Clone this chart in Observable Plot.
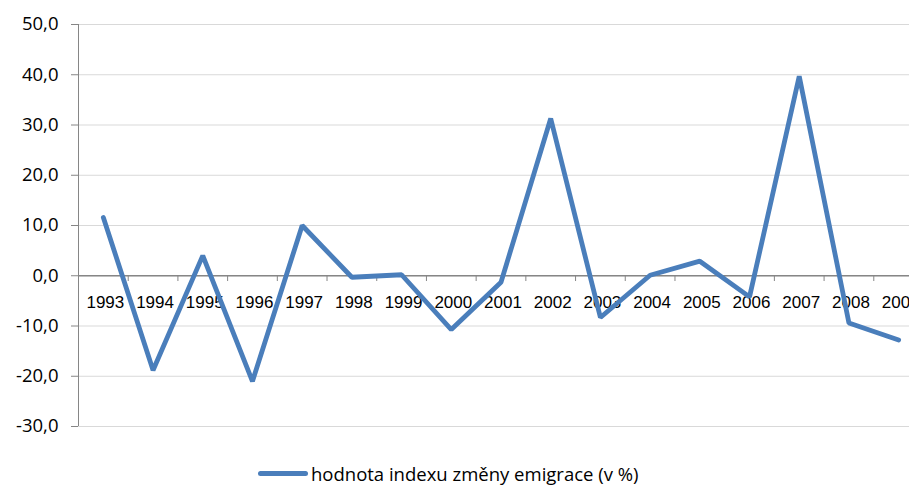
<!DOCTYPE html>
<html>
<head>
<meta charset="utf-8">
<script src="https://cdn.jsdelivr.net/npm/d3@7"></script>
<script src="https://cdn.jsdelivr.net/npm/@observablehq/plot@0.6"></script>
<style>
  html, body { margin: 0; padding: 0; background: #fff; overflow: hidden; }
  #wrap { position: relative; width: 909px; height: 485px; }
  #legend { position: absolute; left: 258px; top: 460px; height: 26px; display: flex; align-items: center;
            font-family: "Open Sans", sans-serif; font-size: 18.5px; color: #000; white-space: nowrap; }
  #legend .sw { width: 50px; height: 5px; border-radius: 3px; background: #4a7ebb; margin-right: 3px; }
</style>
</head>
<body>
<div id="wrap">
  <div id="chart"></div>
  <div id="legend"><span class="sw"></span><span>hodnota indexu změny emigrace (v %)</span></div>
</div>
<script>
const years = [1993, 1994, 1995, 1996, 1997, 1998, 1999, 2000, 2001, 2002, 2003, 2004, 2005, 2006, 2007, 2008, 2009];
const values = [11.6, -18.8, 4.0, -21.0, 10.0, -0.3, 0.2, -10.7, -1.3, 31.3, -8.3, 0.1, 2.9, -4.2, 39.7, -9.4, -12.8];
const yTicks = [-30, -20, -10, 0, 10, 20, 30, 40, 50];
const seriesName = "hodnota indexu změny emigrace (v %)";

const data = years.map((year, i) => ({year, value: values[i]}));
const bounds = years.map(y => y - 0.5).concat([years[years.length - 1] + 0.5]);
const fmt = d => d.toFixed(1).replace(".", ",");

const chart = Plot.plot({
  width: 909,
  height: 448,
  marginTop: 24,
  marginBottom: 22,
  marginLeft: 78,
  marginRight: 0,
  style: {fontFamily: "Open Sans, sans-serif", fontSize: "18px", background: "#fff", color: "#000"},
  x: {type: "linear", domain: [years[0] - 0.5, years[years.length - 1] + 0.5], range: [78, 923], axis: null},
  y: {domain: [-30, 50], axis: null},
  marks: [
    Plot.gridY(yTicks, {stroke: "#d9d9d9", strokeOpacity: 1, strokeWidth: 1}),
    Plot.axisY(yTicks, {tickFormat: fmt, tickSize: 7, tickPadding: 13, stroke: "#868686", fill: "#000", fontSize: 18.5, label: null}),
    Plot.ruleX([years[0] - 0.5], {y1: -30, y2: 50, stroke: "#868686", strokeWidth: 1}),
    Plot.ruleY([0], {stroke: "#868686", strokeWidth: 1.5}),
    Plot.ruleX(bounds, {x: d => d, y1: 0, y2: -1.15, stroke: "#868686", strokeWidth: 1}),
    Plot.text(data, {x: d => d.year + 0.04, y: () => 0, dy: 27, text: d => String(d.year),
      fontFamily: "Liberation Sans, Arial, sans-serif", fontSize: 17, fill: "#000",
      style: "letter-spacing:-1px"}),
    Plot.line(data, {x: "year", y: "value", stroke: "#4a7ebb", strokeWidth: 4.8,
      strokeLinejoin: "miter", strokeLinecap: "round", title: () => seriesName})
  ]
});
document.getElementById("chart").appendChild(chart);
</script>
</body>
</html>
